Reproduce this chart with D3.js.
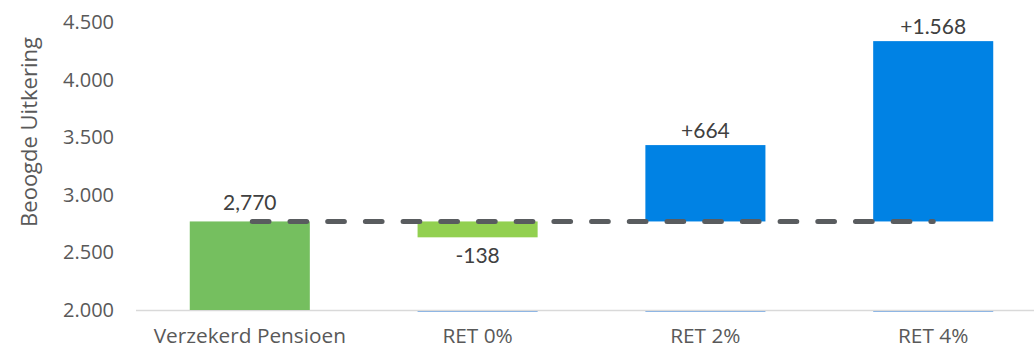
<!DOCTYPE html>
<html lang="nl">
<head>
<meta charset="UTF-8">
<title>Beoogde Uitkering</title>
<script src="https://d3js.org/d3.v7.min.js"></script>
<style>
    body { margin: 0; background: #fff; }
    .tick text { font-family: "Open Sans", sans-serif; font-size: 20px; fill: #595959; }
    .xaxis .tick text { font-size: 20.8px; }
    .label { font-family: Lato, "Open Sans", sans-serif; font-size: 21px; fill: #404040; }
</style>
</head>
<body>
<svg id="chart" width="1034" height="352"></svg>
<script>
    const categories = ["Verzekerd Pensioen", "RET 0%", "RET 2%", "RET 4%"];
    const values = [2770, -138, 664, 1568];
    const labels = ["2,770", "-138", "+664", "+1.568"];
    const colors = ["#75bf5f", "#92d050", "#0082e4", "#0082e4"];
    const yTicks = [2000, 2500, 3000, 3500, 4000, 4500];

    const svg = d3.select("#chart");
    const plotLeft = 136, plotRight = 1047, plotTop = 22.5, plotBottom = 310;

    const x = d3.scaleBand().domain(categories).range([plotLeft, plotRight]).paddingInner(0.473).paddingOuter(0.236);
    const y = d3.scaleLinear().domain([2000, 4500]).range([plotBottom, plotTop]);
    const nl = d3.formatLocale({ decimal: ",", thousands: ".", grouping: [3], currency: ["€", ""] });

    // waterfall: first bar is the total, the rest are deltas on top of it
    const base = values[0];
    const bars = categories.map((c, i) => {
        const v = values[i];
        const y0 = i === 0 ? 2000 : base;
        const y1 = i === 0 ? v : base + v;
        return { c, i, lo: Math.min(y0, y1), hi: Math.max(y0, y1), v, label: labels[i] };
    });

    // y axis
    const yAxis = svg.append("g")
        .attr("transform", `translate(${plotLeft - 12},0)`)
        .call(d3.axisLeft(y).tickValues(yTicks).tickFormat(nl.format(",d")).tickSize(0).tickPadding(10));
    yAxis.select(".domain").remove();

    svg.append("text")
        .attr("transform", `translate(37,132) rotate(-90)`)
        .attr("text-anchor", "middle")
        .style("font-family", "'Open Sans', sans-serif")
        .style("font-size", "22px")
        .style("fill", "#595959")
        .text("Beoogde Uitkering");

    // x axis (category labels only)
    const xAxis = svg.append("g")
        .attr("class", "xaxis")
        .attr("transform", `translate(0,${plotBottom})`)
        .call(d3.axisBottom(x).tickSize(0).tickPadding(18));
    xAxis.select(".domain").remove();

    // baseline
    svg.append("line")
        .attr("x1", plotLeft).attr("x2", 1034)
        .attr("y1", plotBottom + 0.5).attr("y2", plotBottom + 0.5)
        .attr("stroke", "#d9d9d9").attr("stroke-width", 1.5);

    // faint slivers of the hidden base series
    svg.selectAll(".sliver")
        .data(bars.filter(d => d.i > 0))
        .enter().append("rect")
        .attr("x", d => x(d.c))
        .attr("y", plotBottom + 1)
        .attr("width", x.bandwidth())
        .attr("height", 1)
        .attr("fill", "#8fb6e4");

    svg.selectAll(".bar")
        .data(bars)
        .enter().append("rect")
        .attr("class", "bar")
        .attr("x", d => x(d.c))
        .attr("y", d => y(d.hi))
        .attr("width", x.bandwidth())
        .attr("height", d => y(d.lo) - y(d.hi))
        .attr("fill", (d, i) => colors[i]);

    // dashed reference line at the insured pension level
    svg.append("line")
        .attr("x1", x(categories[0]) + x.bandwidth() / 2 + 2.5)
        .attr("x2", x(categories[3]) + x.bandwidth() / 2)
        .attr("y1", y(base)).attr("y2", y(base))
        .attr("stroke", "#595c5f")
        .attr("stroke-width", 5)
        .attr("stroke-linecap", "round")
        .attr("stroke-dasharray", "16.7 21");

    svg.selectAll(".label")
        .data(bars)
        .enter().append("text")
        .attr("class", "label")
        .attr("text-anchor", "middle")
        .attr("x", d => x(d.c) + x.bandwidth() / 2)
        .attr("y", d => d.v < 0 ? y(d.lo) + 26 : y(d.hi) - (d.i === 0 ? 11 : 7))
        .text(d => d.label);
</script>
</body>
</html>
